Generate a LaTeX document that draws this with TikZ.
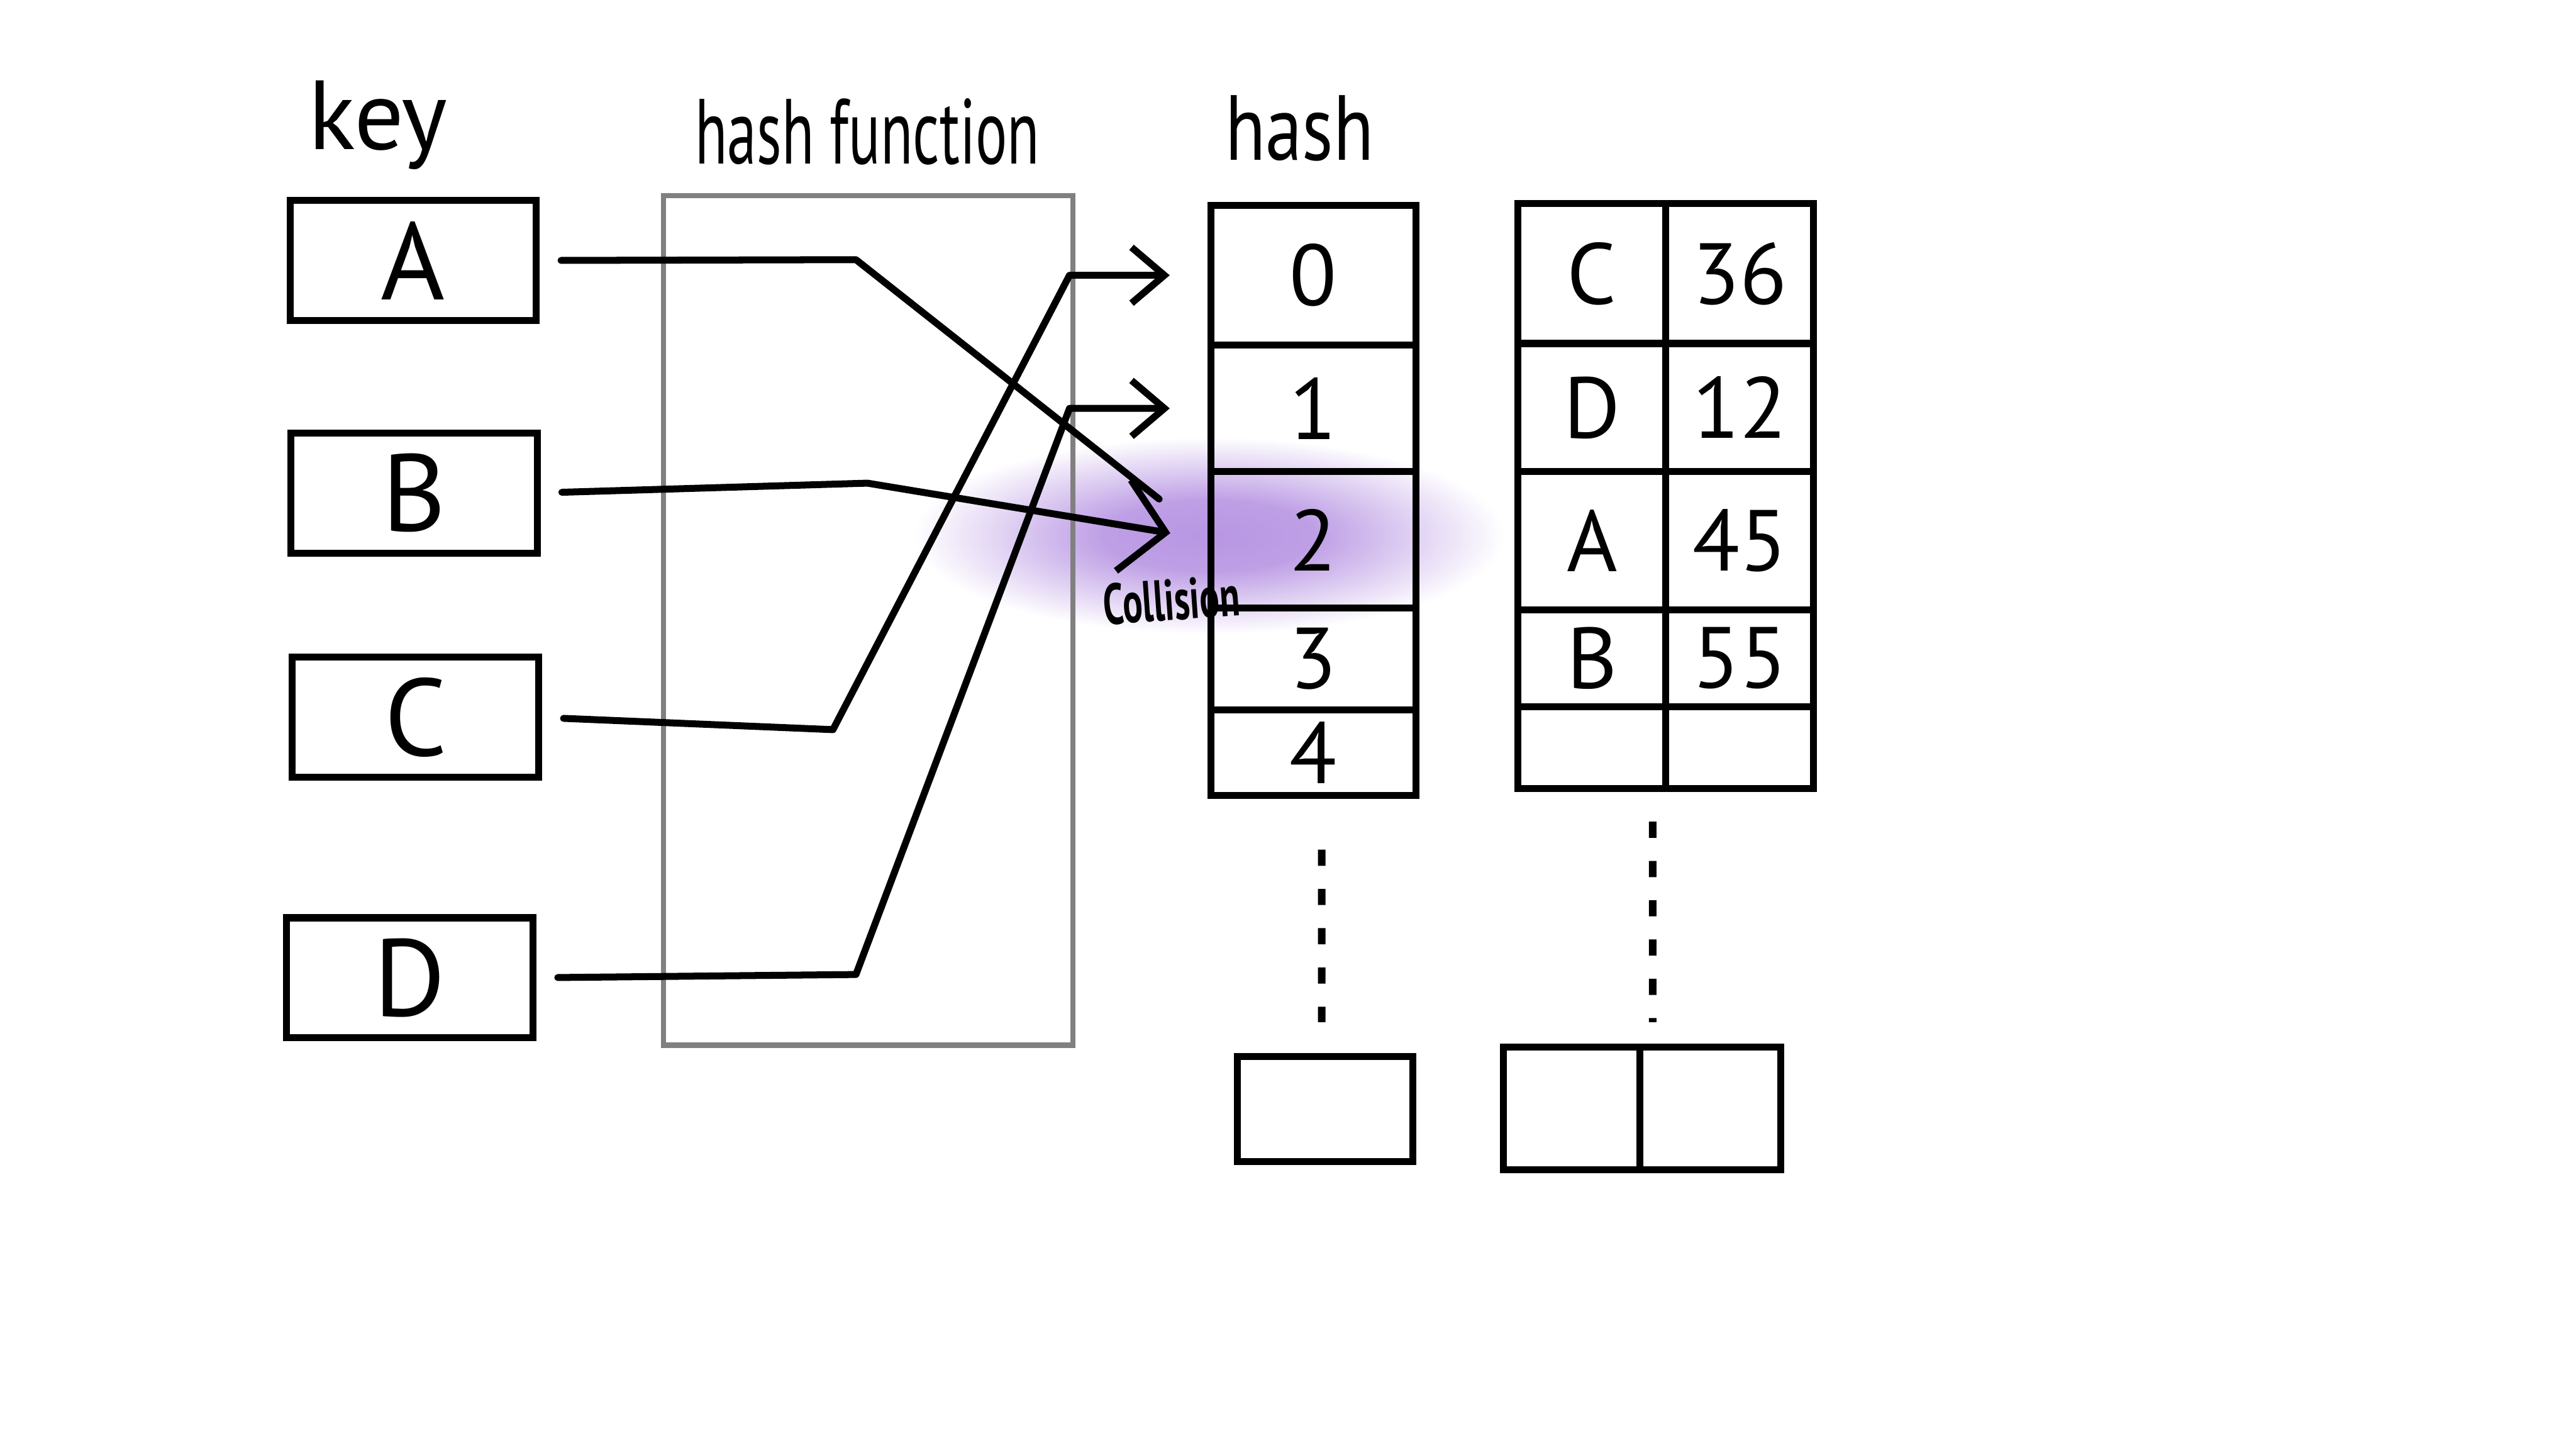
\documentclass[tikz,border=0pt]{standalone}
\usepackage{fontspec}
\setmainfont{PT Sans}
\newfontfamily\hand[FakeStretch=0.8]{PT Sans}
\newfontfamily\handnarrow[FakeStretch=0.64]{PT Sans}
\usetikzlibrary{positioning,arrows.meta,calc}
\definecolor{glow}{RGB}{172,132,222}
\definecolor{fngray}{RGB}{128,128,128}
\pgfdeclareradialshading{blob}{\pgfpoint{0bp}{0bp}}{color(0bp)=(glow!85); color(9bp)=(glow!78); color(25bp)=(white); color(50bp)=(white)}
\tikzset{
  keybox/.style={draw=black, line width=1.2pt, outer sep=0pt, inner sep=0pt,
    minimum width=1.5cm, minimum height=0.73cm, font=\fontsize{19}{21}\selectfont},
  slot/.style={draw=black, line width=1.2pt, outer sep=0pt, inner sep=0pt,
    minimum width=1.25cm, font=\fontsize{15}{17}\selectfont},
  entry/.style={draw=black, line width=1.2pt, outer sep=0pt, inner sep=0pt,
    minimum width=0.9cm, font=\fontsize{15}{17}\selectfont},
  title/.style={font=\fontsize{17}{20}\selectfont},
  link/.style={line width=1.2pt, line cap=round, line join=round, shorten <=1.5mm},
  hit/.style={link, shorten >=2.5mm, -{Straight Barb[length=2mm,width=3.4mm]}},
  gap/.style={line width=1.3pt, dash pattern=on 2.8pt off 4pt}
}

\begin{document}
\begin{tikzpicture}
  \fill[white] (0,0) rectangle (15.68,-8.82);
  \useasboundingbox (0,0) rectangle (15.68,-8.82);

  % collision highlight
  \shade[shading=blob] (7.36,-3.26) ellipse (1.8 and 0.6);

  \node[title] (keytitle) at (2.30,-0.76) {key};
  \node[title, font=\fontsize{16}{20}\handnarrow] (fntitle) at (5.28,-0.80) {hash function};
  \node[title, font=\fontsize{16}{20}\hand] (hashtitle) at (7.91,-0.78) {hash};

  \node[keybox] (kA) at (2.515,-1.585) {A};
  \node[keybox] (kB) at (2.52,-3.00)   {B};
  \node[keybox] (kC) at (2.53,-4.365)  {C};
  \node[keybox] (kD) at (2.495,-5.95)  {D};

  \node[draw=fngray, line width=0.9pt, minimum width=2.49cm, minimum height=5.17cm]
    (hf) at (5.285,-3.775) {};

  % hash slots
  \node[slot, minimum height=0.85cm] (h0) at (7.995,-1.675) {0};
  \node[slot, minimum height=0.77cm, below=0pt of h0] (h1) {1};
  \node[slot, minimum height=0.83cm, below=0pt of h1] (h2) {2};
  \node[slot, minimum height=0.62cm, below=0pt of h2] (h3) {3};
  \node[slot, minimum height=0.52cm, below=0pt of h3] (h4) {4};
  \node[slot, minimum width=1.07cm, minimum height=0.64cm] (hb) at (8.065,-6.75) {};

  % stored entries
  \node[entry, minimum height=0.85cm] (t0k) at (9.69,-1.665) {C};
  \node[entry, minimum height=0.85cm, right=0pt of t0k] (t0v) {36};
  \node[entry, minimum height=0.78cm, below=0pt of t0k] (t1k) {D};
  \node[entry, minimum height=0.78cm, right=0pt of t1k] (t1v) {12};
  \node[entry, minimum height=0.84cm, below=0pt of t1k] (t2k) {A};
  \node[entry, minimum height=0.84cm, right=0pt of t2k] (t2v) {45};
  \node[entry, minimum height=0.59cm, below=0pt of t2k] (t3k) {B};
  \node[entry, minimum height=0.59cm, right=0pt of t3k] (t3v) {55};
  \node[entry, minimum height=0.50cm, below=0pt of t3k] (t4k) {};
  \node[entry, minimum height=0.50cm, right=0pt of t4k] (t4v) {};
  \node[entry, minimum width=0.83cm, minimum height=0.75cm] (tbk) at (9.565,-6.745) {};
  \node[entry, minimum width=0.86cm, minimum height=0.75cm, right=0pt of tbk] (tbv) {};

  \coordinate (bA) at (5.21,-1.58);
  \coordinate (bB) at (5.28,-2.94);
  \coordinate (bC) at (5.07,-4.44);
  \coordinate (cC) at (6.51,-1.675);
  \coordinate (bD) at (5.21,-5.93);
  \coordinate (cD) at (6.51,-2.485);

  \draw[link, shorten >=4mm] (kA.east) -- (bA) -- (h2.west);
  \draw[hit, -{Straight Barb[length=2.6mm,width=5.6mm]}] (kB.east) -- (bB) -- (h2.west);
  \draw[hit] (kC.east) -- (bC) -- (cC) -- (h0.west);
  \draw[hit] (kD.east) -- (bD) -- (cD) -- (h1.west);

  \node[font=\fontsize{10}{11}\handnarrow\bfseries, rotate=4] (clash) at (7.13,-3.65) {Collision};

  \draw[gap] ([xshift=0.5mm,yshift=-3.3mm]h4.south) -- ([xshift=-0.2mm,yshift=2.1mm]hb.north);
  \draw[gap] ([xshift=-0.8mm,yshift=-2mm]t4k.south east) -- ([xshift=0.8mm,yshift=1.5mm]tbk.north east);
\end{tikzpicture}
\end{document}
